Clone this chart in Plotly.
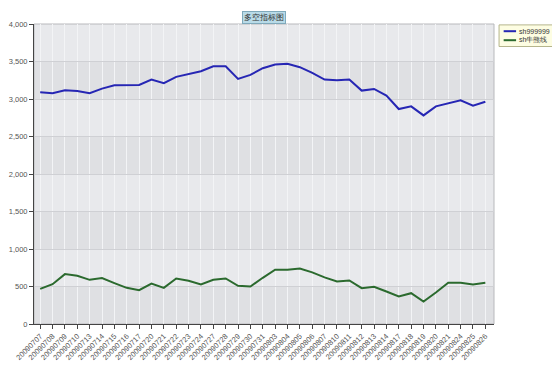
import plotly.graph_objects as go

dates = ["20090707","20090708","20090709","20090710","20090713","20090714","20090715",
         "20090716","20090717","20090720","20090721","20090722","20090723","20090724",
         "20090727","20090728","20090729","20090730","20090731","20090803","20090804",
         "20090805","20090806","20090807","20090810","20090811","20090812","20090813",
         "20090814","20090817","20090818","20090819","20090820","20090821","20090824",
         "20090825","20090826"]

sh999999 = [3089,3076,3116,3107,3076,3138,3183,3183,3187,3259,3210,3295,3330,3370,
            3437,3437,3268,3321,3411,3460,3469,3424,3348,3259,3250,3259,3112,3134,
            3045,2866,2902,2781,2902,2946,2982,2911,2964]

sh_bull_bear = [469,531,665,643,589,612,545,482,451,540,482,607,576,527,589,607,509,
                500,616,723,723,741,688,621,567,580,478,496,433,366,411,299,420,549,
                549,527,549]

series_names = ["sh999999", "sh牛熊线"]
series_colors = ["#2626b4", "#2b6a2e"]

y_ticks = [0,500,1000,1500,2000,2500,3000,3500,4000]

fig = go.Figure()
fig.add_trace(go.Scatter(x=dates, y=sh999999, mode="lines", name=series_names[0],
                         line=dict(color=series_colors[0], width=2)))
fig.add_trace(go.Scatter(x=dates, y=sh_bull_bear, mode="lines", name=series_names[1],
                         line=dict(color=series_colors[1], width=2)))

# alternating horizontal bands
for i in range(len(y_ticks) - 1):
    if i % 2 == 0:
        fig.add_shape(type="rect", xref="paper", yref="y", x0=0, x1=1,
                      y0=y_ticks[i], y1=y_ticks[i + 1],
                      fillcolor="#dfe0e3", line_width=0, layer="below")

# light plot frame
fig.add_shape(type="rect", xref="paper", yref="paper", x0=0, x1=1, y0=0, y1=1,
              line=dict(color="#b8b9bc", width=1), layer="below")

fig.add_annotation(text="多空指标图", xref="paper", yref="paper", x=0.5, y=1.0,
                   xanchor="center", yanchor="bottom", showarrow=False,
                   font=dict(size=8, color="#333"), bgcolor="#b9dbe8",
                   bordercolor="#7fa9bb", borderwidth=1, borderpad=1)

# custom compact legend
fig.add_shape(type="rect", xref="paper", yref="paper", x0=1.011, x1=1.13,
              y0=0.925, y1=0.997, fillcolor="#fdfde2",
              line=dict(color="#b5b58c", width=1))
for k, (nm, col) in enumerate(zip(series_names, series_colors)):
    yy = 0.976 - k * 0.03
    fig.add_shape(type="line", xref="paper", yref="paper", x0=1.021, x1=1.048,
                  y0=yy, y1=yy, line=dict(color=col, width=2))
    fig.add_annotation(text=nm, xref="paper", yref="paper", x=1.05, y=yy,
                       xanchor="left", yanchor="middle", showarrow=False,
                       font=dict(size=7, color="#333"))

# page body has an 8px margin, so the figure is sized/positioned to compensate
fig.update_layout(
    width=552, height=370,
    margin=dict(l=26, r=66, t=16, b=54),
    paper_bgcolor="white",
    plot_bgcolor="#e8e9ec",
    font=dict(family="Arial, Liberation Sans", size=8, color="#555"),
    showlegend=False,
    xaxis=dict(type="category", tickangle=-45, showgrid=True, gridcolor="#f3f4f6",
               gridwidth=1, showline=True, linecolor="#444", linewidth=1,
               ticks="outside", ticklen=4, tickcolor="#444", automargin=False,
               tickfont=dict(size=7.5, color="#555"), range=[-0.5, len(dates) - 0.3]),
    yaxis=dict(range=[0, 4000], tickvals=y_ticks, tickformat=",", showgrid=True,
               gridcolor="#cfd0d4", gridwidth=1, showline=True, linecolor="#444",
               linewidth=1, ticks="outside", ticklen=4, tickcolor="#444",
               zeroline=False, automargin=False,
               tickfont=dict(size=7.5, color="#555")),
)

fig.write_html("out.html")
